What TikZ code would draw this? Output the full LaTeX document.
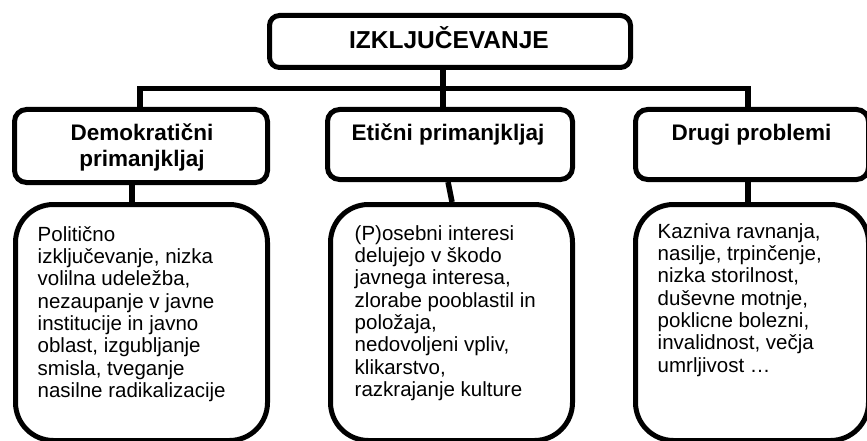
\documentclass[tikz,border=0pt]{standalone}
\usepackage{fontspec}
\setmainfont{Liberation Sans}
\begin{document}
\begin{tikzpicture}[x=1pt,y=-1pt,
  box/.style={draw, line width=5pt, rounded corners=10pt, inner sep=0pt, fill=white},
  midbox/.style={box, rounded corners=12pt},
  bodybox/.style={box, rounded corners=38pt},
  conn/.style={line width=5.5pt, line join=miter},
  titletext/.style={inner sep=0pt, font=\fontsize{24.5}{29}\selectfont\bfseries},
  headtext/.style={inner sep=0pt, align=center, font=\fontsize{22.5}{26}\selectfont\bfseries},
  bodytext/.style={inner sep=0pt, align=left, anchor=north west, font=\fontsize{20.5}{22.3}\selectfont}]
\useasboundingbox (0,0) rectangle (867,441);
\clip (0,0) rectangle (867,441);

% boxes
\node[box, minimum width=361pt, minimum height=52pt] (top) at (450,41.5) {};
\node[midbox, minimum width=253pt, minimum height=73pt] (m1) at (141,146) {};
\node[midbox, minimum width=245pt, minimum height=70pt] (m2) at (450,144.5) {};
\node[midbox, minimum width=233pt, minimum height=70pt] (m3) at (752,144.5) {};
\node[bodybox, minimum width=252pt, minimum height=236pt] (b1) at (141.5,322.5) {};
\node[bodybox, minimum width=242pt, minimum height=236pt] (b2) at (451.5,322.5) {};
\node[bodybox, minimum width=233pt, minimum height=236pt] (b3) at (752,322.5) {};

% connector coordinates
\coordinate (j0) at (443,88.5);
\coordinate (busL) at (140,88.5);
\coordinate (busR) at (748,88.5);
\coordinate (c1) at (132,0);
\coordinate (c3) at (748,0);

% connectors
\draw[conn] (top.south -| j0) -- (j0 |- m2.north);
\draw[conn] (busL |- m1.north) -- (busL) -- (busR) -- (busR |- m3.north);
\draw[conn] (m1.south -| c1) -- (b1.north -| c1);
\draw[conn] ([xshift=-2pt]m2.south) -- ([xshift=0.5pt]b2.north);
\draw[conn] (m3.south -| c3) -- (b3.north -| c3);

% texts
\node[titletext, anchor=base] (ttl) at (449,48.3) {IZKLJUČEVANJE};
\node[headtext, anchor=north] (h1) at (142,121.8) {\strut Demokratični\\primanjkljaj};
\node[headtext, anchor=base] (h2) at (448,140) {Etični primanjkljaj};
\node[headtext, anchor=base] (h3) at (751.5,140) {Drugi problemi};

\node[bodytext] (p1) at (37.5,225.4) {\strut Politično\\izključevanje, nizka\\volilna udeležba,\\nezaupanje v javne\\institucije in javno\\oblast, izgubljanje\\smisla, tveganje\\nasilne radikalizacije};
\node[bodytext] (p2) at (354.5,224.4) {\strut (P)osebni interesi\\delujejo v škodo\\javnega interesa,\\zlorabe pooblastil in\\položaja,\\nedovoljeni vpliv,\\klikarstvo,\\razkrajanje kulture};
\node[bodytext] (p3) at (657.5,222.4) {\strut Kazniva ravnanja,\\nasilje, trpinčenje,\\nizka storilnost,\\duševne motnje,\\poklicne bolezni,\\invalidnost, večja\\umrljivost …};
\end{tikzpicture}
\end{document}
